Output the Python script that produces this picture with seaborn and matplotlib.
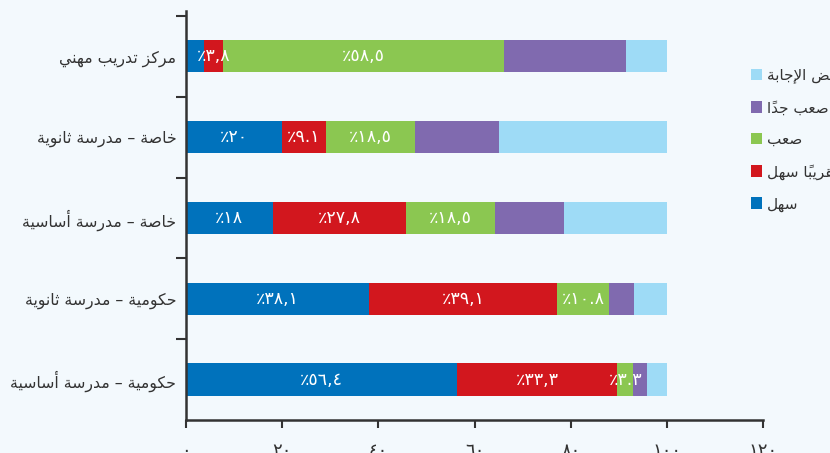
import numpy as np
import matplotlib
matplotlib.use("Agg")
import matplotlib.pyplot as plt
from matplotlib.patches import Patch
import seaborn as sns

# --------------------------------------------------------------
# Data
# --------------------------------------------------------------
categories = [
    "مركز تدريب مهني",
    "خاصة – مدرسة ثانوية",
    "خاصة – مدرسة أساسية",
    "حكومية – مدرسة ثانوية",
    "حكومية – مدرسة أساسية",
]
series = ["سهل", "تقريباً سهل", "صعب", "صعب جداً", "رفض الإجابة"]

easy = [3.8, 20.0, 18.0, 38.1, 56.4]
fairly_easy = [3.8, 9.1, 27.8, 39.1, 33.3]
hard = [58.5, 18.5, 18.5, 10.8, 3.3]
very_hard = [25.4, 17.5, 14.3, 5.2, 2.9]
refused = [8.5, 34.9, 21.4, 6.8, 4.1]

easy_labels = [None, "٪٢٠", "٪١٨", "٪٣٨,١", "٪٥٦,٤"]
fairly_easy_labels = ["٪٣,٨", "٪٩.١", "٪٢٧,٨", "٪٣٩,١", "٪٣٣,٣"]
hard_labels = ["٪٥٨,٥", "٪١٨,٥", "٪١٨,٥", "٪١٠.٨", "٪٣.٣"]

x_ticks = [0, 20, 40, 60, 80, 100, 120]
x_tick_labels = ["٠", "٢٠", "٤٠", "٦٠", "٨٠", "١٠٠", "١٢٠"]

colors = ["#0072BC", "#D2171E", "#8BC751", "#806AAF", "#9EDBF6"]
bg = "#F3F9FD"

# --------------------------------------------------------------
# Minimal Arabic shaping (matplotlib has no complex text layout)
# --------------------------------------------------------------
FORMS = {  # char: (first presentation form code, dual-joining)
    "ا": (0xFE8D, False), "أ": (0xFE83, False), "إ": (0xFE87, False),
    "ب": (0xFE8F, True), "ة": (0xFE93, False), "ت": (0xFE95, True),
    "ث": (0xFE99, True), "ج": (0xFE9D, True), "ح": (0xFEA1, True),
    "خ": (0xFEA5, True), "د": (0xFEA9, False), "ر": (0xFEAD, False),
    "ز": (0xFEAF, False), "س": (0xFEB1, True), "ص": (0xFEB9, True),
    "ض": (0xFEBD, True), "ع": (0xFEC9, True), "ف": (0xFED1, True),
    "ق": (0xFED5, True), "ك": (0xFED9, True), "ل": (0xFEDD, True),
    "م": (0xFEE1, True), "ن": (0xFEE5, True), "ه": (0xFEE9, True),
    "و": (0xFEED, False), "ي": (0xFEF1, True),
    "\uFEFB": (0xFEFB, False), "\uFEF7": (0xFEF7, False), "\uFEF9": (0xFEF9, False),
}
MARKS = set(chr(c) for c in range(0x064B, 0x0653))


def shape(text):
    for pair, lig in (("لا", "\uFEFB"), ("لأ", "\uFEF7"), ("لإ", "\uFEF9")):
        text = text.replace(pair, lig)
    chars = list(text)

    def neighbour(i, step):
        j = i + step
        while 0 <= j < len(chars) and chars[j] in MARKS:
            j += step
        return chars[j] if 0 <= j < len(chars) else None

    out = []
    for i, c in enumerate(chars):
        if c not in FORMS:
            out.append(c)
            continue
        start, dual = FORMS[c]
        prev, nxt = neighbour(i, -1), neighbour(i, 1)
        jp = prev in FORMS and FORMS[prev][1]
        jn = dual and nxt in FORMS
        form = 3 if (jp and jn) else 1 if jp else 2 if jn else 0
        out.append(chr(start + form))

    clusters = []
    for c in out:
        if c in MARKS and clusters:
            clusters[-1] += c
        else:
            clusters.append(c)
    return "".join(reversed(clusters))


# --------------------------------------------------------------
# Plot
# --------------------------------------------------------------
sns.set_style("ticks")
plt.rcParams["font.family"] = ["DejaVu Sans"]

values = np.array([easy, fairly_easy, hard, very_hard, refused])
cum = np.cumsum(values, axis=0)
labels = [easy_labels, fairly_easy_labels, hard_labels, None, None]

fig, ax = plt.subplots(figsize=(8.3, 4.53), dpi=100)
fig.patch.set_facecolor(bg)
ax.set_facecolor(bg)
fig.subplots_adjust(left=186 / 830, right=763 / 830, bottom=1 - 420 / 453, top=1 - 11 / 453)

# stacked bars: draw cumulative totals from the largest down
for k in range(len(series) - 1, -1, -1):
    sns.barplot(x=cum[k], y=categories, color=colors[k], width=0.4,
                saturation=1, orient="h", ax=ax, linewidth=0)

for k, labs in enumerate(labels):
    if labs is None:
        continue
    for i, lab in enumerate(labs):
        if lab is None:
            continue
        ax.text(cum[k][i] - values[k][i] / 2, i, lab, ha="center", va="center",
                color="white", fontsize=12.5)

ax.set_xlim(0, 120)
ax.set_ylim(len(categories) - 0.5, -0.56)
ax.set_xlabel("")
ax.set_ylabel("")

ax.set_xticks(x_ticks)
ax.set_xticklabels(x_tick_labels, fontsize=13, color="#333333")
ax.set_yticks(range(len(categories)))
ax.set_yticklabels([shape(c) for c in categories], fontsize=11.3, color="#333333")
ax.set_yticks(np.arange(-0.5, len(categories) - 1), minor=True)

ax.tick_params(axis="y", which="major", length=0, pad=7)
ax.tick_params(axis="y", which="minor", length=7, width=1.5, color="#333333", direction="out")
ax.tick_params(axis="x", length=6, width=1.5, color="#333333", pad=10)

for side in ["top", "right"]:
    ax.spines[side].set_visible(False)
for side in ["left", "bottom"]:
    ax.spines[side].set_linewidth(1.8)
    ax.spines[side].set_color("#333333")

handles = [Patch(facecolor=colors[k], edgecolor="none") for k in range(len(series) - 1, -1, -1)]
leg_labels = [shape(series[k]) for k in range(len(series) - 1, -1, -1)]
fig.legend(handles, leg_labels, loc="upper left", bbox_to_anchor=(737 / 830, 1 - 54 / 453),
           frameon=False, handlelength=0.75, handleheight=0.75, handletextpad=0.3,
           labelspacing=1.1, fontsize=11, labelcolor="#333333")

fig.savefig("out.png", dpi=100, facecolor=bg)
